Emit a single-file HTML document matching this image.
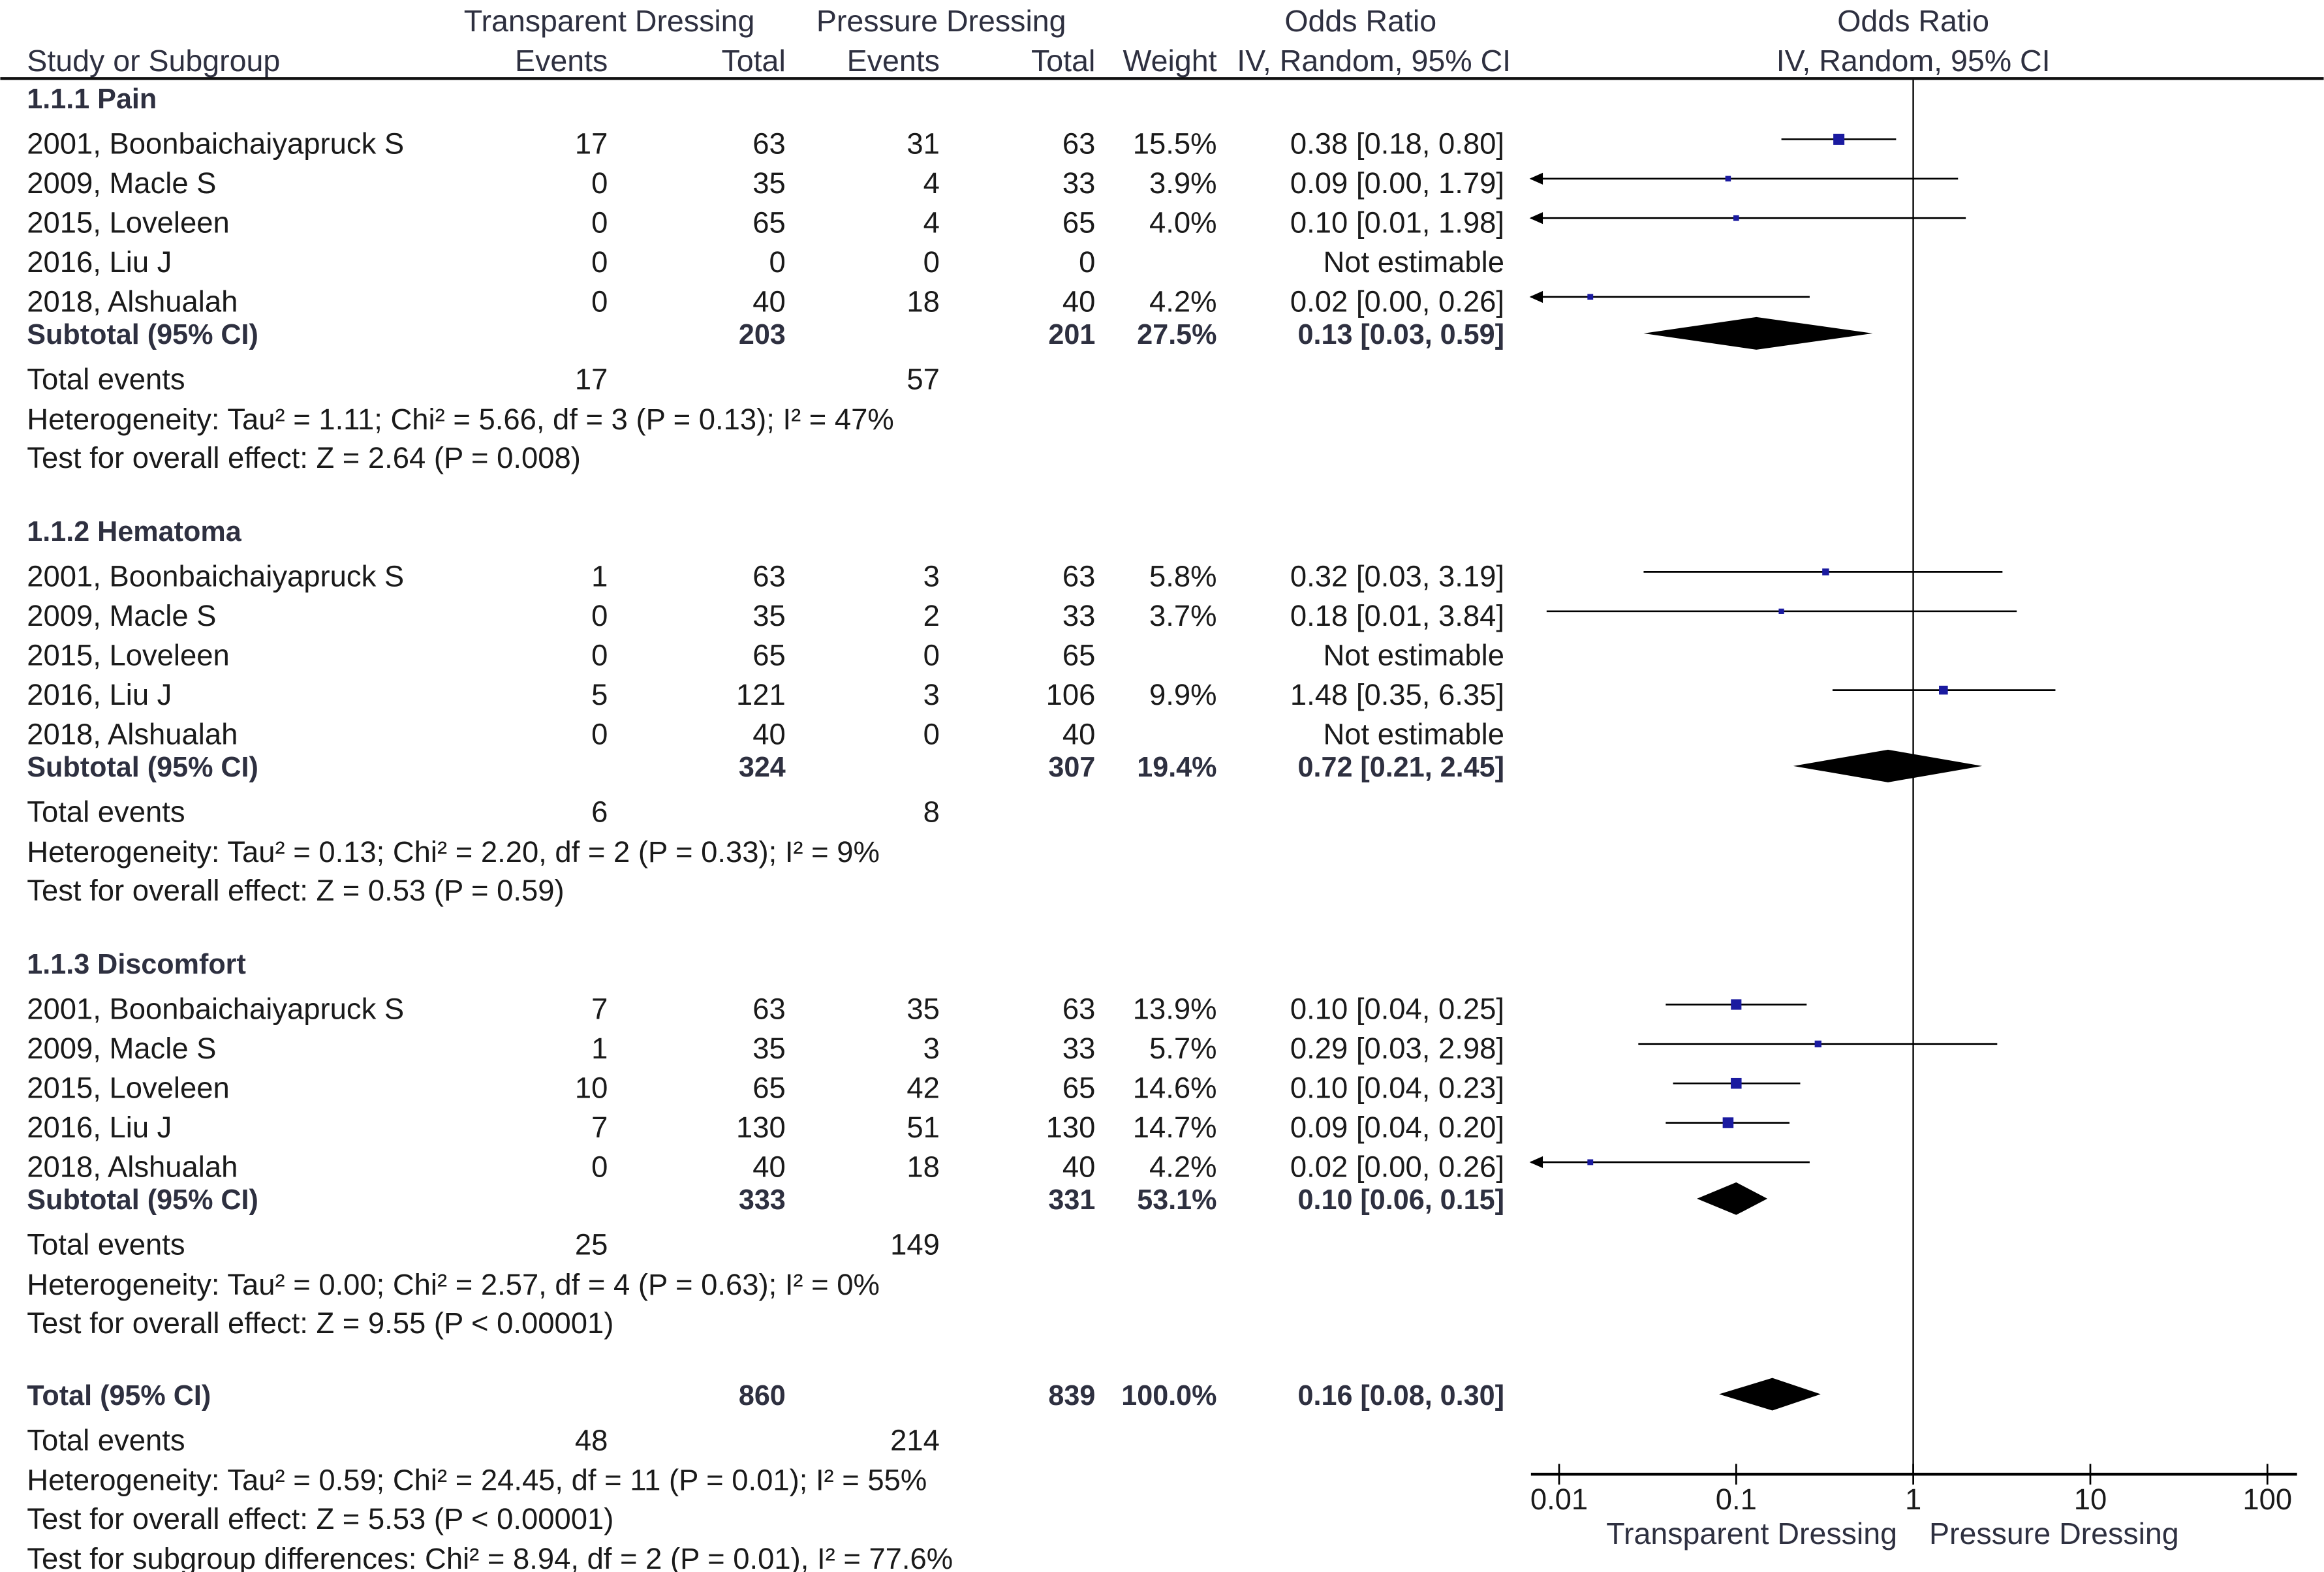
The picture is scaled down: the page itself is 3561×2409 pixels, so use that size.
<!DOCTYPE html>
<html><head><meta charset="utf-8"><style>
html,body{margin:0;padding:0;background:#fff;}
svg{display:block;}
text{font-family:"Liberation Sans",sans-serif;font-size:20px;fill:#1a1a1a;dominant-baseline:central;}
.b{font-weight:bold;fill:#2e3040;font-size:19px;}
.h{fill:#2e3040;font-size:20.5px;}
</style></head><body>
<svg id="s" width="3561" height="2409" viewBox="0 0 1568 1061" xmlns="http://www.w3.org/2000/svg"></svg>
<script>
const s=document.getElementById('s');let o='';
function X(v){return 1291+119.5*Math.log10(v);}
function t(x,y,str,anchor,cls){o+=`<text x="${x}" y="${y}" text-anchor="${anchor||'start'}"${cls?` class="${cls}"`:''}>${str}</text>`;}
t(411,14,'Transparent Dressing','middle','h');t(635,14,'Pressure Dressing','middle','h');
t(918,14,'Odds Ratio','middle','h');t(1291,14,'Odds Ratio','middle','h');
t(18,41,'Study or Subgroup','start','h');t(410,41,'Events','end','h');t(530,41,'Total','end','h');
t(634,41,'Events','end','h');t(739,41,'Total','end','h');t(821,41,'Weight','end','h');
t(927,41,'IV, Random, 95% CI','middle','h');t(1291,41,'IV, Random, 95% CI','middle','h');
o+='<line x1="0" y1="53" x2="1568" y2="53" stroke="#111" stroke-width="2"/>';
o+='<line x1="1291" y1="54" x2="1291" y2="995" stroke="#222" stroke-width="1.2"/>';
const groups=[
{y:67,name:'1.1.1 Pain',rows:[
['2001, Boonbaichaiyapruck S',17,63,31,63,'15.5%','0.38 [0.18, 0.80]',.38,.18,.80],
['2009, Macle S',0,35,4,33,'3.9%','0.09 [0.00, 1.79]',.09,.004,1.79],
['2015, Loveleen',0,65,4,65,'4.0%','0.10 [0.01, 1.98]',.10,.005,1.98],
['2016, Liu J',0,0,0,0,'','Not estimable'],
['2018, Alshualah',0,40,18,40,'4.2%','0.02 [0.00, 0.26]',.015,.004,.26]],
sub:[203,201,'27.5%','0.13 [0.03, 0.59]',.13,.03,.59],ev:[17,57],
het:'Heterogeneity: Tau² = 1.11; Chi² = 5.66, df = 3 (P = 0.13); I² = 47%',test:'Test for overall effect: Z = 2.64 (P = 0.008)'},
{y:359,name:'1.1.2 Hematoma',rows:[
['2001, Boonbaichaiyapruck S',1,63,3,63,'5.8%','0.32 [0.03, 3.19]',.32,.03,3.19],
['2009, Macle S',0,35,2,33,'3.7%','0.18 [0.01, 3.84]',.18,.0085,3.84],
['2015, Loveleen',0,65,0,65,'','Not estimable'],
['2016, Liu J',5,121,3,106,'9.9%','1.48 [0.35, 6.35]',1.48,.35,6.35],
['2018, Alshualah',0,40,0,40,'','Not estimable']],
sub:[324,307,'19.4%','0.72 [0.21, 2.45]',.72,.21,2.45],ev:[6,8],
het:'Heterogeneity: Tau² = 0.13; Chi² = 2.20, df = 2 (P = 0.33); I² = 9%',test:'Test for overall effect: Z = 0.53 (P = 0.59)'},
{y:651,name:'1.1.3 Discomfort',rows:[
['2001, Boonbaichaiyapruck S',7,63,35,63,'13.9%','0.10 [0.04, 0.25]',.10,.04,.25],
['2009, Macle S',1,35,3,33,'5.7%','0.29 [0.03, 2.98]',.29,.028,2.98],
['2015, Loveleen',10,65,42,65,'14.6%','0.10 [0.04, 0.23]',.10,.044,.23],
['2016, Liu J',7,130,51,130,'14.7%','0.09 [0.04, 0.20]',.09,.04,.20],
['2018, Alshualah',0,40,18,40,'4.2%','0.02 [0.00, 0.26]',.015,.004,.26]],
sub:[333,331,'53.1%','0.10 [0.06, 0.15]',.10,.06,.15],ev:[25,149],
het:'Heterogeneity: Tau² = 0.00; Chi² = 2.57, df = 4 (P = 0.63); I² = 0%',test:'Test for overall effect: Z = 9.55 (P &lt; 0.00001)'}];
function diamond(y,c,l,u,h){o+=`<polygon points="${X(l)},${y} ${X(c)},${y-h} ${X(u)},${y} ${X(c)},${y+h}" fill="#000"/>`;}
groups.forEach(g=>{
 t(18,g.y,g.name,'start','b');
 g.rows.forEach((r,i)=>{const y=g.y+30+i*26.6;
  t(18,y,r[0]);t(410,y,r[1],'end');t(530,y,r[2],'end');t(634,y,r[3],'end');t(739,y,r[4],'end');
  t(821,y,r[5],'end');t(1015,y,r[6],'end');
  if(r[7]){const py=y-3;let x1=X(r[8]);const x2=X(r[9]);const arrow=x1<1033;if(arrow)x1=1033;
   o+=`<line x1="${x1}" y1="${py}" x2="${x2}" y2="${py}" stroke="#000" stroke-width="1.2"/>`;
   if(arrow)o+=`<polygon points="1032,${py} 1041,${py-4} 1041,${py+4}" fill="#000"/>`;
   const w=parseFloat(r[5]);const sz=Math.max(3,Math.sqrt(w)*1.9);
   o+=`<rect x="${X(r[7])-sz/2}" y="${py-sz/2}" width="${sz}" height="${sz}" fill="#1a1aa0"/>`;}
 });
 const sy=g.y+159;
 t(18,sy,'Subtotal (95% CI)','start','b');t(530,sy,g.sub[0],'end','b');t(739,sy,g.sub[1],'end','b');
 t(821,sy,g.sub[2],'end','b');t(1015,sy,g.sub[3],'end','b');
 diamond(sy-1,g.sub[4],g.sub[5],g.sub[6],11);
 t(18,sy+30,'Total events');t(410,sy+30,g.ev[0],'end');t(634,sy+30,g.ev[1],'end');
 t(18,sy+57,g.het);t(18,sy+83,g.test);
});
t(18,942,'Total (95% CI)','start','b');t(530,942,'860','end','b');t(739,942,'839','end','b');
t(821,942,'100.0%','end','b');t(1015,942,'0.16 [0.08, 0.30]','end','b');
diamond(941,.16,.08,.30,11);
t(18,972,'Total events');t(410,972,'48','end');t(634,972,'214','end');
t(18,999,'Heterogeneity: Tau² = 0.59; Chi² = 24.45, df = 11 (P = 0.01); I² = 55%');
t(18,1025,'Test for overall effect: Z = 5.53 (P &lt; 0.00001)');
t(18,1052,'Test for subgroup differences: Chi² = 8.94, df = 2 (P = 0.01), I² = 77.6%');
o+='<line x1="1033" y1="995" x2="1550" y2="995" stroke="#000" stroke-width="2"/>';
[['0.01',.01],['0.1',.1],['1',1],['10',10],['100',100]].forEach(a=>{const x=X(a[1]);
 o+=`<line x1="${x}" y1="988" x2="${x}" y2="1002" stroke="#000" stroke-width="1.2"/>`;t(x,1012,a[0],'middle');});
t(1182,1035,'Transparent Dressing','middle','h');t(1386,1035,'Pressure Dressing','middle','h');
s.innerHTML=o;
</script>
</body></html>
